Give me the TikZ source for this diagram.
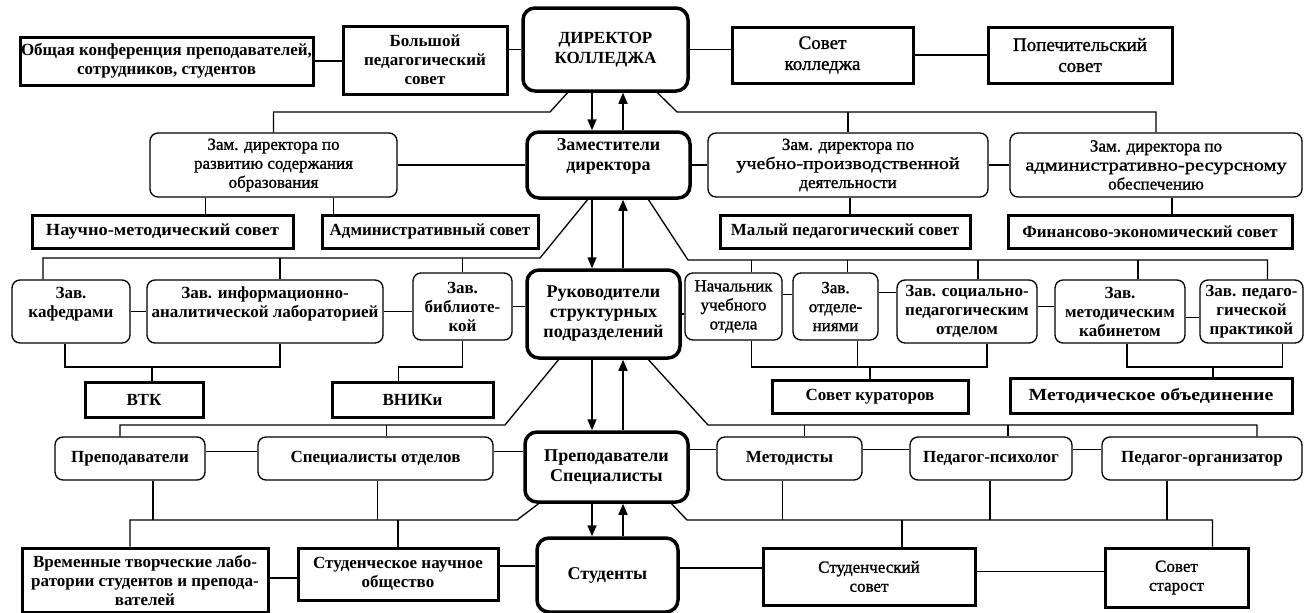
\documentclass[tikz,border=0pt]{standalone}
\usepackage{fontspec}
\usepackage{graphicx}
\setmainfont{Liberation Serif}
\newfontfamily\medserif{Liberation Serif}[FakeBold=1.2]
\usetikzlibrary{arrows.meta}
\newcommand{\wider}[2]{\scalebox{#1}[1]{#2}}
\begin{document}
\begin{tikzpicture}[x=1pt,y=-1pt,
  every node/.style={font=\fontsize{17}{19}\selectfont\medserif, align=center, inner sep=1pt},
  bftext/.style={font=\fontsize{17}{19}\selectfont\bfseries},
  bigtext/.style={font=\fontsize{19}{21}\selectfont\medserif},
  thickbox/.style={draw, line width=3pt},
  thinrnd/.style={draw, line width=1.3pt, rounded corners=8pt},
  mainbox/.style={draw, line width=3.5pt, rounded corners=12pt, font=\fontsize{18}{20}\selectfont\bfseries},
  ln/.style={line width=1.3pt},
  arr/.style={line width=1.5pt, -{Triangle[length=11pt,width=9pt]}}]
\fill[white] (0,0) rectangle (1307,613);
\useasboundingbox (0,0) rectangle (1307,613);

% Row 1
\node[thickbox, bftext, minimum width=293, minimum height=48] (conf) at (166.5,61) {Общая конференция преподавателей,\\сотрудников, студентов};
\node[thickbox, bftext, minimum width=164, minimum height=68] (bps) at (425,60) {Большой\\педагогический\\совет};
\node[mainbox, font=\fontsize{17}{20}\selectfont\bfseries, minimum width=165, minimum height=83] (dir) at (605.5,49.5) {ДИРЕКТОР\\КОЛЛЕДЖА};
\node[thickbox, bigtext, minimum width=181, minimum height=56] (sk) at (822.5,55) {Совет\\колледжа};
\node[thickbox, bigtext, minimum width=184, minimum height=56] (ps) at (1080,55) {Попечительский\\совет};

% Row 2
\node[thinrnd, minimum width=247, minimum height=64] (zr) at (273.5,165) {Зам. директора по\\развитию содержания\\образования};
\node[mainbox, minimum width=163, minimum height=66] (zam) at (608.5,165) {Заместители\\директора\\~};
\node[thinrnd, minimum width=280, minimum height=64] (zu) at (848,165) {Зам. директора по\\\wider{1.18}{учебно-производственной}\\деятельности};
\node[thinrnd, minimum width=292, minimum height=64] (za) at (1156,165) {Зам. директора по\\\wider{1.2}{административно-ресурсному}\\обеспечению};

% Councils
\node[thickbox, bftext, minimum width=261, minimum height=33] (nms) at (162.5,231.5) {\wider{1.08}{Научно-методический совет}};
\node[thickbox, bftext, minimum width=216, minimum height=33] (as) at (430,231.5) {Административный совет};
\node[thickbox, bftext, minimum width=250, minimum height=33] (mps) at (845,231.5) {Малый педагогический совет};
\node[thickbox, bftext, minimum width=284, minimum height=33] (fes) at (1150,231.5) {Финансово-экономический совет};

% Row 3
\node[thinrnd, bftext, minimum width=118, minimum height=63] (kaf) at (71,311.5) {Зав.\\кафедрами\\~};
\node[thinrnd, bftext, minimum width=236, minimum height=63] (inf) at (265,311.5) {Зав. информационно-\\аналитической лабораторией\\~};
\node[thinrnd, bftext, minimum width=99, minimum height=67] (bib) at (462.5,306.5) {Зав.\\библиоте-\\кой};
\node[mainbox, minimum width=153, minimum height=88] (ruk) at (603.5,314) {Руководители\\структурных\\подразделений};
\node[thinrnd, minimum width=97, minimum height=67] (nach) at (733.5,306.5) {Начальник\\учебного\\отдела};
\node[thinrnd, minimum width=85, minimum height=67] (otd) at (835.5,306.5) {Зав.\\отделе-\\ниями};
\node[thinrnd, bftext, minimum width=140, minimum height=63] (soc) at (967,311.5) {Зав. социально-\\педагогическим\\отделом};
\node[thinrnd, bftext, minimum width=130, minimum height=63] (met) at (1120,311.5) {Зав.\\методическим\\кабинетом};
\node[thinrnd, bftext, minimum width=103, minimum height=63] (prak) at (1251.5,311.5) {Зав. педаго-\\гической\\практикой};

% Row 3.5
\node[thickbox, bftext, minimum width=118, minimum height=35] (vtk) at (144,399.5) {ВТК};
\node[thickbox, bftext, minimum width=161, minimum height=35] (vnik) at (412.5,399.5) {ВНИКи};
\node[thickbox, bftext, minimum width=196, minimum height=33] (kur) at (870,396.5) {Совет кураторов};
\node[thickbox, bftext, minimum width=282, minimum height=35] (mo) at (1151,395.5) {\wider{1.17}{Методическое объединение}};

% Row 4
\node[thinrnd, bftext, minimum width=150, minimum height=43] (prep) at (130,458.5) {Преподаватели};
\node[thinrnd, bftext, minimum width=235, minimum height=43] (spo) at (375.5,458.5) {Специалисты отделов};
\node[mainbox, minimum width=163, minimum height=70] (ps2) at (606.5,467) {Преподаватели\\Специалисты};
\node[thinrnd, bftext, minimum width=145, minimum height=43] (metd) at (789.5,458.5) {Методисты};
\node[thinrnd, bftext, minimum width=162, minimum height=43] (psy) at (991,458.5) {Педагог-психолог};
\node[thinrnd, bftext, minimum width=200, minimum height=43] (org) at (1202,458.5) {Педагог-организатор};

% Row 5
\node[thickbox, bftext, minimum width=246, minimum height=64] (vtl) at (145,580) {Временные творческие лабо-\\ратории студентов и препода-\\вателей};
\node[thickbox, bftext, minimum width=200, minimum height=52] (sno) at (398,574) {Студенческое научное\\общество};
\node[mainbox, minimum width=141, minimum height=74] (stud) at (607.5,575) {Студенты};
\node[thickbox, minimum width=212, minimum height=57] (ssov) at (869,576.5) {Студенческий\\совет};
\node[thickbox, minimum width=143, minimum height=59] (sst) at (1176.5,577.5) {Совет\\старост};

% Row 1 links
\draw[ln] (conf.east) -- (conf.east -| bps.west);
\draw[ln] (dir.west) -- (dir.west -| bps.east);
\draw[ln] (dir.east) -- (dir.east -| sk.west);
\draw[ln] (sk.east) -- (sk.east -| ps.west);

% Director to deputies tree
\coordinate (d1) at ([xshift=-38]dir.south);
\coordinate (d2) at ([xshift=52]dir.south);
\coordinate (h1) at (550,112);
\coordinate (h2) at (677,112);
\draw[ln] (d1) -- (h1) -- (h1 -| zr.north) -- (zr.north);
\draw[ln] (d2) -- (h2) -- (h2 -| za.north) -- (za.north);
\draw[ln] (h2 -| zu.north) -- (zu.north);

% vertical arrows
\coordinate (xa) at (592,0);
\coordinate (xb) at (623,0);
\draw[arr] (dir.south -| xa) -- (zam.north -| xa);
\draw[arr] (zam.north -| xb) -- (dir.south -| xb);
\draw[arr] (zam.south -| xa) -- (ruk.north -| xa);
\draw[arr] (ruk.north -| xb) -- (zam.south -| xb);
\draw[arr] (ruk.south -| xa) -- (ps2.north -| xa);
\draw[arr] (ps2.north -| xb) -- (ruk.south -| xb);
\draw[arr] (ps2.south -| xa) -- (stud.north -| xa);
\draw[arr] (stud.north -| xb) -- (ps2.south -| xb);

% Row 2 links
\draw[ln] (zr.east) -- (zr.east -| zam.west);
\draw[ln] (zam.east) -- (zam.east -| zu.west);
\draw[ln] (zu.east) -- (zu.east -| za.west);

% councils
\coordinate (v1) at ([xshift=-68]zr.south);
\coordinate (v2) at ([xshift=60]zr.south);
\coordinate (v3) at ([xshift=2]zu.south);
\coordinate (v4) at ([xshift=16]za.south);
\draw[ln] (v1) -- (v1 |- nms.north);
\draw[ln] (v2) -- (v2 |- as.north);
\draw[ln] (v3) -- (v3 |- mps.north);
\draw[ln] (v4) -- (v4 |- fes.north);

% Row 3 tree
\coordinate (z1) at ([xshift=-21]zam.south);
\coordinate (h3) at (540,258);
\coordinate (vk) at ([xshift=-28]kaf.north);
\coordinate (vi) at ([xshift=15]inf.north);
\draw[ln] (z1) -- (h3) -- (h3 -| vk) -- (vk);
\draw[ln] (h3 -| vi) -- (vi);
\draw[ln] (h3 -| bib.north) -- (bib.north);
\coordinate (z2) at ([xshift=40]zam.south);
\coordinate (h4) at (688,260);
\coordinate (vp) at ([xshift=16]prak.north);
\coordinate (vn) at ([xshift=18]nach.north);
\coordinate (vo) at ([xshift=12]otd.north);
\coordinate (vs) at ([xshift=11]soc.north);
\coordinate (vm) at ([xshift=18]met.north);
\draw[ln] (z2) -- (h4) -- (h4 -| vp) -- (vp);
\draw[ln] (h4 -| vn) -- (vn);
\draw[ln] (h4 -| vo) -- (vo);
\draw[ln] (h4 -| vs) -- (vs);
\draw[ln] (h4 -| vm) -- (vm);

% Row 3 links
\draw[ln] (kaf.east) -- (kaf.east -| inf.west);
\draw[ln] (inf.east) -- (inf.east -| bib.west);
\draw[ln] (bib.east) -- (bib.east -| ruk.west);
\draw[ln] (ruk.east) -- (ruk.east -| nach.west);
\draw[ln] ([yshift=12]nach.east) -- ([yshift=12]nach.east -| otd.west);
\draw[ln] ([yshift=14]otd.east) -- ([yshift=14]otd.east -| soc.west);
\draw[ln] ([yshift=5]soc.east) -- ([yshift=5]soc.east -| met.west);
\draw[ln] ([yshift=-6]met.east) -- ([yshift=-6]met.east -| prak.west);

% Row 3.5 links
\coordinate (h5) at (152,367);
\coordinate (bk) at ([xshift=-6]kaf.south);
\coordinate (bi) at ([xshift=15]inf.south);
\coordinate (tv) at ([xshift=8]vtk.north);
\coordinate (tn) at ([xshift=-14]vnik.north);
\draw[ln] (bk) -- (bk |- h5) -- (bi |- h5) -- (bi);
\draw[ln] (tv |- h5) -- (tv);
\draw[ln] (bib.south) -- (bib.south |- h5) -- (tn |- h5) -- (tn);
\coordinate (h6) at (870,367);
\coordinate (bn) at ([xshift=18]nach.south);
\coordinate (bs) at ([xshift=20]soc.south);
\coordinate (bo) at ([xshift=22]otd.south);
\draw[ln] (bn) -- (bn |- h6) -- (bs |- h6) -- (bs);
\draw[ln] (bo) -- (bo |- h6);
\draw[ln] (kur.north |- h6) -- (kur.north);
\coordinate (bm) at ([xshift=7]met.south);
\coordinate (bp) at ([xshift=31]prak.south);
\coordinate (tm) at ([xshift=62]mo.north);
\draw[ln] (bm) -- (bm |- h6) -- (bp |- h6) -- (bp);
\draw[ln] (tm |- h6) -- (tm);

% Row 4 tree
\coordinate (r1) at ([xshift=-45]ruk.south);
\coordinate (h7) at (505,425);
\coordinate (tp) at ([xshift=-10]prep.north);
\coordinate (ts) at ([xshift=11]spo.north);
\draw[ln] (r1) -- (h7) -- (h7 -| tp) -- (tp);
\draw[ln] (h7 -| ts) -- (ts);
\coordinate (r2) at ([xshift=45]ruk.south);
\coordinate (h8) at (708,425);
\coordinate (tmd) at ([xshift=15]metd.north);
\coordinate (tpsy) at ([xshift=17]psy.north);
\coordinate (tor) at ([xshift=55]org.north);
\draw[ln] (r2) -- (h8) -- (h8 -| tor) -- (tor);
\draw[ln] (h8 -| tmd) -- (tmd);
\draw[ln] (h8 -| tpsy) -- (tpsy);

% Row 4 links
\draw[ln] ([yshift=7]prep.east) -- ([yshift=7]prep.east -| spo.west);
\draw[ln] ([yshift=7]spo.east) -- ([yshift=7]spo.east -| ps2.west);
\draw[ln] ([yshift=9]metd.west -| ps2.east) -- ([yshift=9]metd.west);
\draw[ln] ([yshift=9]metd.east) -- ([yshift=9]metd.east -| psy.west);
\draw[ln] ([yshift=9]psy.east) -- ([yshift=9]psy.east -| org.west);

% Row 5 tree
\coordinate (p1) at ([xshift=-68]ps2.south);
\coordinate (h9) at (517,520);
\coordinate (tvt) at ([xshift=-15]vtl.north);
\draw[ln] (p1) -- (h9) -- (h9 -| tvt) -- (tvt);
\draw[ln] (h9 -| sno.north) -- (sno.north);
\coordinate (bpr) at ([xshift=23]prep.south);
\coordinate (bsp) at ([xshift=2]spo.south);
\draw[ln] (bpr) -- (bpr |- h9);
\draw[ln] (bsp) -- (bsp |- h9);
\coordinate (p2) at ([xshift=65]ps2.south);
\coordinate (h10) at (687,520);
\coordinate (tss) at ([xshift=33]ssov.north);
\coordinate (tst) at ([xshift=36]sst.north);
\draw[ln] (p2) -- (h10) -- (h10 -| tst) -- (tst);
\draw[ln] (h10 -| tss) -- (tss);
\coordinate (bmd) at ([xshift=-7]metd.south);
\coordinate (bpsy) at ([xshift=-1]psy.south);
\coordinate (bor) at ([xshift=-35]org.south);
\draw[ln] (bmd) -- (bmd |- h10);
\draw[ln] (bpsy) -- (bpsy |- h10);
\draw[ln] (bor) -- (bor |- h10);

% Row 5 links
\draw[ln] ([yshift=2]vtl.east) -- ([yshift=2]vtl.east -| sno.west);
\draw[ln] ([yshift=8]sno.east) -- ([yshift=8]sno.east -| stud.west);
\draw[ln] ([yshift=7]stud.east) -- ([yshift=7]stud.east -| ssov.west);
\draw[ln] ([yshift=5]ssov.east) -- ([yshift=5]ssov.east -| sst.west);
\end{tikzpicture}
\end{document}
